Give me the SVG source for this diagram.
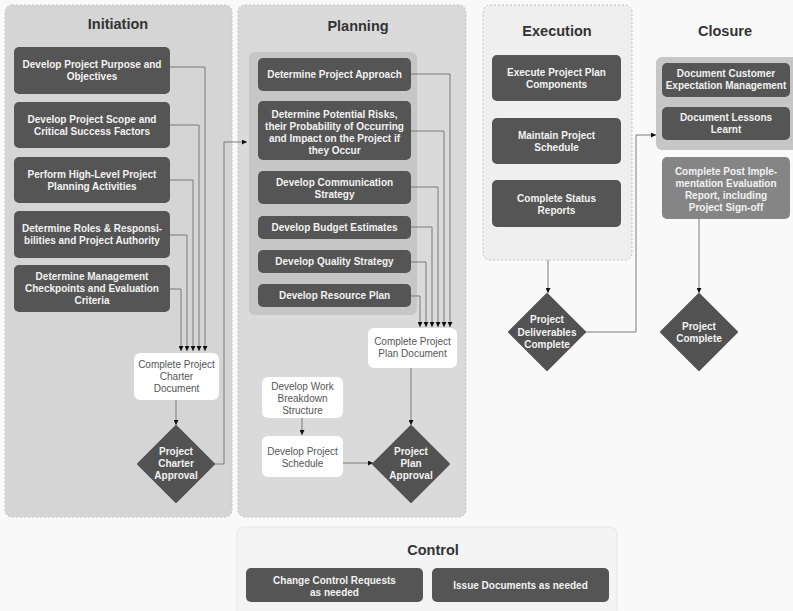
<svg xmlns="http://www.w3.org/2000/svg" width="793" height="611" viewBox="0 0 793 611">
  <defs>
    <marker id="arrow" viewBox="0 0 6 6" refX="6" refY="3" markerWidth="5" markerHeight="5" markerUnits="userSpaceOnUse" orient="auto">
      <path d="M0,0 L6,3 L0,6 z" fill="#111"/>
    </marker>
    <style>
      text { font-family: "Liberation Sans", Arial, sans-serif; text-anchor: middle; }
      .title { font-size: 14.5px; font-weight: bold; fill: #333; }
      .dark { fill: #555; }
      .diamond { fill: #525252; }
      .light { fill: #fff; }
      .mid { fill: #858585; }
      .wt { font-size: 10px; font-weight: bold; fill: #f2f2f2; }
      .gt { font-size: 10px; fill: #555; }
      .phase { stroke: #c2c2c2; stroke-width: 1; stroke-dasharray: 2 2; }
      .group { fill: #c6c6c6; }
      .conn { fill: none; stroke: #7a7a7a; stroke-width: 1; }
    </style>
  </defs>

  <rect x="0" y="0" width="793" height="611" fill="#f9f9f9"/>

  <!-- phase panels -->
  <g id="phase-initiation">
    <rect class="phase" x="5" y="5" width="227" height="512" rx="7" fill="#d5d5d5"/>
    <text class="title" x="118" y="29">Initiation</text>
  </g>
  <g id="phase-planning">
    <rect class="phase" x="238" y="5" width="228" height="512" rx="7" fill="#dadada"/>
    <text class="title" x="358" y="31">Planning</text>
    <rect class="group" x="249" y="52" width="168" height="263" rx="6"/>
  </g>
  <g id="phase-execution">
    <rect class="phase" x="483" y="5" width="149" height="255" rx="7" fill="#efefef" stroke="#dedede"/>
    <text class="title" x="557" y="36">Execution</text>
  </g>
  <g id="phase-closure">
    <text class="title" x="725" y="36">Closure</text>
    <rect class="group" x="656" y="57" width="142" height="93" rx="6"/>
  </g>
  <g id="phase-control">
    <rect x="237" y="527" width="380" height="90" rx="7" fill="#f4f4f4" stroke="#e6e6e6"/>
    <text class="title" x="433" y="555">Control</text>
  </g>

  <!-- connectors -->
  <g id="connectors">
    <path class="conn" d="M170,67 H205 V351" marker-end="url(#arrow)"/>
    <path class="conn" d="M170,125 H199 V351" marker-end="url(#arrow)"/>
    <path class="conn" d="M170,180 H193 V351" marker-end="url(#arrow)"/>
    <path class="conn" d="M170,235 H187 V351" marker-end="url(#arrow)"/>
    <path class="conn" d="M170,289 H181 V351" marker-end="url(#arrow)"/>
    <path class="conn" d="M176,400 V425" marker-end="url(#arrow)"/>
    <path class="conn" d="M214,464 H224 V142 H247" marker-end="url(#arrow)"/>

    <path class="conn" d="M411,74 H450 V327" marker-end="url(#arrow)"/>
    <path class="conn" d="M411,131 H444 V327" marker-end="url(#arrow)"/>
    <path class="conn" d="M411,187 H438 V327" marker-end="url(#arrow)"/>
    <path class="conn" d="M411,227 H432 V327" marker-end="url(#arrow)"/>
    <path class="conn" d="M411,262 H426 V327" marker-end="url(#arrow)"/>
    <path class="conn" d="M411,296 H420 V327" marker-end="url(#arrow)"/>
    <path class="conn" d="M411,368 V425" marker-end="url(#arrow)"/>
    <path class="conn" d="M302,418 V435" marker-end="url(#arrow)"/>
    <path class="conn" d="M343,463 H373" marker-end="url(#arrow)"/>

    <path class="conn" d="M548,260 V293" marker-end="url(#arrow)"/>
    <path class="conn" d="M585,332 H636 V135 H656" marker-end="url(#arrow)"/>
    <path class="conn" d="M699,219 V293" marker-end="url(#arrow)"/>
  </g>

  <!-- Initiation nodes -->
  <g id="develop-purpose">
    <rect class="dark" x="14" y="47" width="156" height="47" rx="5"/>
    <text class="wt" x="92" y="68">Develop Project Purpose and</text>
    <text class="wt" x="92" y="80">Objectives</text>
  </g>
  <g id="develop-scope">
    <rect class="dark" x="14" y="102" width="156" height="46" rx="5"/>
    <text class="wt" x="92" y="123">Develop Project Scope and</text>
    <text class="wt" x="92" y="135">Critical Success Factors</text>
  </g>
  <g id="high-level-planning">
    <rect class="dark" x="14" y="157" width="156" height="46" rx="5"/>
    <text class="wt" x="92" y="178">Perform High-Level Project</text>
    <text class="wt" x="92" y="190">Planning Activities</text>
  </g>
  <g id="roles-responsibilities">
    <rect class="dark" x="14" y="211" width="156" height="47" rx="5"/>
    <text class="wt" x="92" y="232">Determine Roles &amp; Responsi-</text>
    <text class="wt" x="92" y="244">bilities and Project Authority</text>
  </g>
  <g id="management-checkpoints">
    <rect class="dark" x="14" y="265" width="156" height="47" rx="5"/>
    <text class="wt" x="92" y="280">Determine Management</text>
    <text class="wt" x="92" y="292">Checkpoints and Evaluation</text>
    <text class="wt" x="92" y="304">Criteria</text>
  </g>
  <g id="charter-document">
    <rect class="light" x="134" y="353" width="85" height="47" rx="6"/>
    <text class="gt" x="176.5" y="368">Complete Project</text>
    <text class="gt" x="176.5" y="380">Charter</text>
    <text class="gt" x="176.5" y="392">Document</text>
  </g>
  <g id="charter-approval">
    <path class="diamond" d="M176,426 L214,464 L176,502 L138,464 z" stroke="#525252" stroke-width="2" stroke-linejoin="round"/>
    <text class="wt" x="176" y="455">Project</text>
    <text class="wt" x="176" y="467">Charter</text>
    <text class="wt" x="176" y="479">Approval</text>
  </g>

  <!-- Planning nodes -->
  <g id="project-approach">
    <rect class="dark" x="258" y="58" width="153" height="33" rx="5"/>
    <text class="wt" x="334.5" y="78">Determine Project Approach</text>
  </g>
  <g id="potential-risks">
    <rect class="dark" x="258" y="101" width="153" height="59" rx="5"/>
    <text class="wt" x="334.5" y="118">Determine Potential Risks,</text>
    <text class="wt" x="334.5" y="130">their Probability of Occurring</text>
    <text class="wt" x="334.5" y="142">and Impact on the Project if</text>
    <text class="wt" x="334.5" y="154">they Occur</text>
  </g>
  <g id="communication-strategy">
    <rect class="dark" x="258" y="171" width="153" height="33" rx="5"/>
    <text class="wt" x="334.5" y="185.5">Develop Communication</text>
    <text class="wt" x="334.5" y="197.5">Strategy</text>
  </g>
  <g id="budget-estimates">
    <rect class="dark" x="258" y="216" width="153" height="23" rx="5"/>
    <text class="wt" x="334.5" y="231">Develop Budget Estimates</text>
  </g>
  <g id="quality-strategy">
    <rect class="dark" x="258" y="250" width="153" height="23" rx="5"/>
    <text class="wt" x="334.5" y="265">Develop Quality Strategy</text>
  </g>
  <g id="resource-plan">
    <rect class="dark" x="258" y="284" width="153" height="23" rx="5"/>
    <text class="wt" x="334.5" y="299">Develop Resource Plan</text>
  </g>
  <g id="plan-document">
    <rect class="light" x="368" y="328" width="89" height="40" rx="6"/>
    <text class="gt" x="412.5" y="345">Complete Project</text>
    <text class="gt" x="412.5" y="357">Plan Document</text>
  </g>
  <g id="work-breakdown">
    <rect class="light" x="262" y="377" width="81" height="41" rx="6"/>
    <text class="gt" x="302.5" y="390">Develop Work</text>
    <text class="gt" x="302.5" y="402">Breakdown</text>
    <text class="gt" x="302.5" y="414">Structure</text>
  </g>
  <g id="project-schedule">
    <rect class="light" x="262" y="436" width="81" height="41" rx="6"/>
    <text class="gt" x="302.5" y="455">Develop Project</text>
    <text class="gt" x="302.5" y="467">Schedule</text>
  </g>
  <g id="plan-approval">
    <path class="diamond" d="M411,426 L449,464 L411,502 L373,464 z" stroke="#525252" stroke-width="2" stroke-linejoin="round"/>
    <text class="wt" x="411" y="455">Project</text>
    <text class="wt" x="411" y="467">Plan</text>
    <text class="wt" x="411" y="479">Approval</text>
  </g>

  <!-- Execution nodes -->
  <g id="execute-components">
    <rect class="dark" x="492" y="55" width="129" height="46" rx="5"/>
    <text class="wt" x="556.5" y="76">Execute Project Plan</text>
    <text class="wt" x="556.5" y="88">Components</text>
  </g>
  <g id="maintain-schedule">
    <rect class="dark" x="492" y="118" width="129" height="46" rx="5"/>
    <text class="wt" x="556.5" y="139">Maintain Project</text>
    <text class="wt" x="556.5" y="151">Schedule</text>
  </g>
  <g id="status-reports">
    <rect class="dark" x="492" y="180" width="129" height="47" rx="5"/>
    <text class="wt" x="556.5" y="202">Complete Status</text>
    <text class="wt" x="556.5" y="214">Reports</text>
  </g>
  <g id="deliverables-complete">
    <path class="diamond" d="M547,294 L585,332 L547,370 L509,332 z" stroke="#525252" stroke-width="2" stroke-linejoin="round"/>
    <text class="wt" x="547" y="323">Project</text>
    <text class="wt" x="547" y="335.5">Deliverables</text>
    <text class="wt" x="547" y="348">Complete</text>
  </g>

  <!-- Closure nodes -->
  <g id="customer-expectation">
    <rect class="dark" x="662" y="63" width="128" height="34" rx="5"/>
    <text class="wt" x="726" y="76.5">Document Customer</text>
    <text class="wt" x="726" y="88.5">Expectation Management</text>
  </g>
  <g id="lessons-learnt">
    <rect class="dark" x="662" y="107" width="128" height="33" rx="5"/>
    <text class="wt" x="726" y="121">Document Lessons</text>
    <text class="wt" x="726" y="133">Learnt</text>
  </g>
  <g id="post-implementation">
    <rect class="mid" x="662" y="157" width="128" height="62" rx="5"/>
    <text class="wt" x="726" y="175">Complete Post Imple-</text>
    <text class="wt" x="726" y="187">mentation Evaluation</text>
    <text class="wt" x="726" y="199">Report, including</text>
    <text class="wt" x="726" y="211">Project Sign-off</text>
  </g>
  <g id="project-complete">
    <path class="diamond" d="M699,294 L737,332 L699,370 L661,332 z" stroke="#525252" stroke-width="2" stroke-linejoin="round"/>
    <text class="wt" x="699" y="329.5">Project</text>
    <text class="wt" x="699" y="342">Complete</text>
  </g>

  <!-- Control nodes -->
  <g id="change-control">
    <rect class="dark" x="246" y="568" width="177" height="34" rx="5"/>
    <text class="wt" x="334.5" y="584">Change Control Requests</text>
    <text class="wt" x="334.5" y="596">as needed</text>
  </g>
  <g id="issue-documents">
    <rect class="dark" x="432" y="568" width="177" height="34" rx="5"/>
    <text class="wt" x="520.5" y="588.5">Issue Documents as needed</text>
  </g>
</svg>
